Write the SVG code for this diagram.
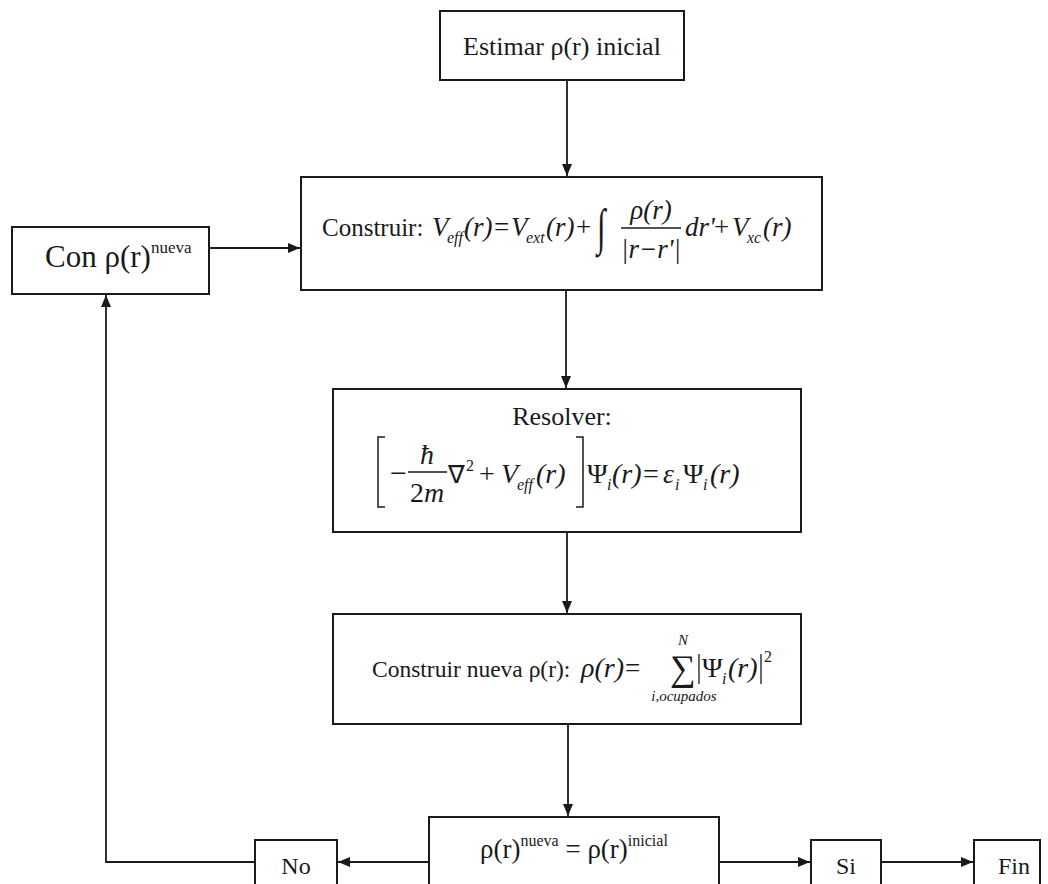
<svg xmlns="http://www.w3.org/2000/svg" width="1048" height="884" viewBox="0 0 1048 884">
<style>
.box{fill:#fff;stroke:#1a1a1a;stroke-width:2}
.t{font-family:"Liberation Serif","Times New Roman",serif;fill:#1a1a1a}
.m{font-family:"Liberation Serif","Times New Roman",serif;font-style:italic;fill:#1a1a1a}
.c{stroke:#1a1a1a;stroke-width:1.8;fill:none}
.fl{stroke:#1a1a1a;stroke-width:1.3}
</style>
<defs>
<marker id="ah" markerWidth="12" markerHeight="10" refX="12" refY="5" orient="auto" markerUnits="userSpaceOnUse">
<path d="M0,0 L12,5 L0,10 Z" fill="#1a1a1a"/>
</marker>
</defs>
<rect width="1048" height="884" fill="#fff"/>
<g id="connectors">
<line class="c" x1="567" y1="80" x2="567" y2="176" marker-end="url(#ah)"/>
<line class="c" x1="209" y1="248" x2="300" y2="248" marker-end="url(#ah)"/>
<line class="c" x1="566" y1="290" x2="566" y2="388" marker-end="url(#ah)"/>
<line class="c" x1="567" y1="532" x2="567" y2="613" marker-end="url(#ah)"/>
<line class="c" x1="568" y1="724" x2="568" y2="816" marker-end="url(#ah)"/>
<line class="c" x1="429" y1="862" x2="338" y2="862" marker-end="url(#ah)"/>
<polyline class="c" points="255,862 106,862 106,295" marker-end="url(#ah)"/>
<line class="c" x1="719" y1="862" x2="810" y2="862" marker-end="url(#ah)"/>
<line class="c" x1="881" y1="862" x2="973" y2="862" marker-end="url(#ah)"/>
</g>
<g id="estimar">
<rect class="box" x="440" y="11" width="244" height="69"/>
<text class="t" x="562" y="55" font-size="26" text-anchor="middle">Estimar ρ(r) inicial</text>
</g>
<g id="con">
<rect class="box" x="12" y="227" width="197" height="67"/>
<text class="t" x="45" y="267" font-size="31">Con ρ(r)<tspan font-size="17" dy="-14">nueva</tspan></text>
</g>
<g id="construir">
<rect class="box" x="301" y="177" width="521" height="113"/>
<text class="t" x="322" y="236" font-size="25">Construir:</text>
<text class="m" x="432" y="236" font-size="27">V</text>
<text class="m" x="447" y="243" font-size="16">eff</text>
<text class="m" x="464" y="236" font-size="27">(r)</text>
<text class="t" x="494" y="236" font-size="27">=</text>
<text class="m" x="511" y="236" font-size="27">V</text>
<text class="m" x="526" y="243" font-size="16">ext</text>
<text class="m" x="546" y="236" font-size="27">(r)</text>
<text class="t" x="576" y="236" font-size="27">+</text>
<text class="t" transform="translate(597,244) scale(1.1,1.8)" font-size="28">∫</text>
<text class="m" x="651" y="219" font-size="27" text-anchor="middle">ρ(r)</text>
<line class="fl" x1="621" y1="228" x2="681" y2="228"/>
<text class="m" x="651" y="258" font-size="27" text-anchor="middle">|r−r'|</text>
<text class="m" x="685" y="236" font-size="27">dr'</text>
<text class="t" x="714" y="236" font-size="27">+</text>
<text class="m" x="732" y="236" font-size="27">V</text>
<text class="m" x="747" y="243" font-size="16">xc</text>
<text class="m" x="763" y="236" font-size="27">(r)</text>
</g>
<g id="resolver">
<rect class="box" x="333" y="389" width="468" height="143"/>
<text class="t" x="562" y="425" font-size="26" text-anchor="middle">Resolver:</text>
<path d="M385,437 L378,437 L378,507 L385,507" fill="none" stroke="#1a1a1a" stroke-width="1.5"/>
<text class="t" x="390" y="483" font-size="30">−</text>
<text class="m" x="427" y="464" font-size="28" text-anchor="middle">ħ</text>
<line class="fl" x1="408" y1="472" x2="447" y2="472"/>
<text class="m" x="427" y="502" font-size="28" text-anchor="middle"><tspan font-style="normal">2</tspan>m</text>
<text class="t" x="448" y="483" font-size="25">∇</text>
<text class="t" x="466" y="471" font-size="16">2</text>
<text class="t" x="479" y="483" font-size="28">+</text>
<text class="m" x="501" y="483" font-size="28">V</text>
<text class="m" x="517" y="490" font-size="16">eff</text>
<text class="m" x="536" y="483" font-size="28">(r)</text>
<path d="M576,437 L583,437 L583,507 L576,507" fill="none" stroke="#1a1a1a" stroke-width="1.5"/>
<text class="t" x="587" y="483" font-size="28">Ψ</text>
<text class="m" x="607" y="490" font-size="16">i</text>
<text class="m" x="612" y="483" font-size="28">(r)</text>
<text class="t" x="643" y="483" font-size="28">=</text>
<text class="m" x="663" y="483" font-size="28">ε</text>
<text class="m" x="675" y="490" font-size="16">i</text>
<text class="t" x="683" y="483" font-size="28">Ψ</text>
<text class="m" x="703" y="490" font-size="16">i</text>
<text class="m" x="710" y="483" font-size="28">(r)</text>
</g>
<g id="nueva">
<rect class="box" x="333" y="614" width="468" height="110"/>
<text class="t" x="372" y="677" font-size="23.5">Construir nueva ρ(r):</text>
<text class="m" x="581" y="677" font-size="28">ρ(r)</text>
<text class="t" x="625" y="677" font-size="27">=</text>
<text class="t" x="670" y="680" font-size="36">∑</text>
<text class="m" x="683" y="645" font-size="15" text-anchor="middle">N</text>
<text class="m" x="684" y="701" font-size="15" text-anchor="middle">i,ocupados</text>
<line class="fl" x1="699" y1="654" x2="699" y2="684"/>
<text class="t" x="702" y="677" font-size="28">Ψ</text>
<text class="m" x="722" y="684" font-size="16">i</text>
<text class="m" x="728" y="677" font-size="28">(r)</text>
<line class="fl" x1="761" y1="654" x2="761" y2="684"/>
<text class="t" x="764" y="662" font-size="16">2</text>
</g>
<g id="decision">
<rect class="box" x="429" y="817" width="290" height="80"/>
<text class="t" x="480" y="858" font-size="27">ρ(r)<tspan font-size="16" dy="-12">nueva</tspan><tspan dy="12"> = ρ(r)</tspan><tspan font-size="16" dy="-12">inicial</tspan></text>
</g>
<g id="no">
<rect class="box" x="255" y="840" width="82" height="60"/>
<text class="t" x="296" y="874" font-size="24" text-anchor="middle">No</text>
</g>
<g id="si">
<rect class="box" x="811" y="840" width="70" height="60"/>
<text class="t" x="846" y="874" font-size="24" text-anchor="middle">Si</text>
</g>
<g id="fin">
<rect class="box" x="974" y="840" width="66" height="60"/>
<text class="t" x="1014" y="874" font-size="24" text-anchor="middle">Fin</text>
</g>
</svg>
